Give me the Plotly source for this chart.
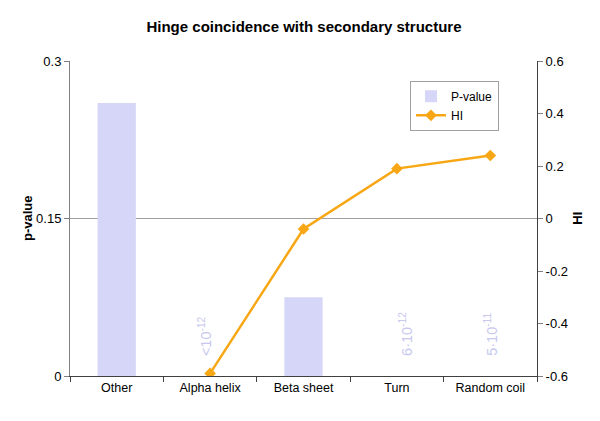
import plotly.graph_objects as go

categories = ["Other", "Alpha helix", "Beta sheet", "Turn", "Random coil"]
p_values = [0.26, 0.0, 0.075, 0.0, 0.0]
hi_values = [None, -0.59, -0.04, 0.19, 0.24]
small_p_labels = ["", "&lt;10<sup>-12</sup>", "", "6·10<sup>-12</sup>", "5·10<sup>-11</sup>"]
label_xshift = [0, -5, 0, 9, 0]

left_ticks = [0, 0.15, 0.3]
left_ticktext = ["0", "0.15", "0.3"]
right_ticks = [-0.6, -0.4, -0.2, 0, 0.2, 0.4, 0.6]
right_ticktext = ["-0.6", "-0.4", "-0.2", "0", "0.2", "0.4", "0.6"]

BAR = "#d6d6f8"
ORANGE = "#f7a714"
LBL = "#c8c8ee"
FONT = "Liberation Sans, Arial, sans-serif"

fig = go.Figure()
fig.add_trace(go.Bar(x=categories, y=p_values, name="P-value", marker=dict(color=BAR, line=dict(width=0)),
                     width=0.41, yaxis="y"))
fig.add_trace(go.Scatter(x=categories, y=hi_values, name="HI", mode="lines+markers", yaxis="y2",
                         line=dict(color=ORANGE, width=2.5),
                         marker=dict(symbol="diamond", size=9, color=ORANGE)))

for c, t, xs in zip(categories, small_p_labels, label_xshift):
    if t:
        fig.add_annotation(x=c, y=0, xref="x", yref="y", text=t, showarrow=False, textangle=-90,
                           yanchor="bottom", xanchor="center", xshift=xs, yshift=18,
                           font=dict(family=FONT, size=14.5, color=LBL))

# axis titles
fig.add_annotation(x=-0.091, y=0.5, xref="paper", yref="paper", text="<b>p-value</b>", showarrow=False,
                   textangle=-90, xanchor="center", yanchor="middle", font=dict(family=FONT, size=13))
fig.add_annotation(x=1.086, y=0.5, xref="paper", yref="paper", text="<b>HI</b>", showarrow=False,
                   textangle=-90, xanchor="center", yanchor="middle", font=dict(family=FONT, size=13))

fig.add_shape(type="line", xref="paper", yref="y", x0=0, x1=1, y0=0.15, y1=0.15,
              line=dict(color="#a0a0a0", width=1), layer="below")

fig.update_layout(
    width=592, height=413,
    margin=dict(l=62, r=63, t=53, b=45),
    paper_bgcolor="white", plot_bgcolor="white",
    font=dict(family=FONT, size=12.5, color="black"),
    title=dict(text="<b>Hinge coincidence with secondary structure</b>", x=0.5, xanchor="center",
               y=0.955, yanchor="middle", font=dict(size=15, family=FONT)),
    xaxis=dict(showline=True, linecolor="#404040", ticks="outside", tickson="boundaries",
               ticklen=5, tickcolor="#404040", showgrid=False, tickfont=dict(size=12.5)),
    yaxis=dict(range=[0, 0.3], tickvals=left_ticks, ticktext=left_ticktext, showgrid=False,
               showline=True, linecolor="#808080", ticks="outside", ticklen=5, tickcolor="#808080",
               zeroline=False, tickfont=dict(size=13)),
    yaxis2=dict(range=[-0.6, 0.6], tickvals=right_ticks, ticktext=right_ticktext, overlaying="y",
                side="right", showgrid=False, showline=True, linecolor="#404040", ticks="outside",
                ticklen=5, tickcolor="#808080", zeroline=False, tickfont=dict(size=13)),
    legend=dict(x=0.728, y=0.937, xanchor="left", yanchor="top", bordercolor="#a0a0a0",
                borderwidth=1, bgcolor="white", font=dict(size=12), tracegroupgap=0),
    showlegend=True,
    bargap=0.59,
)

fig.write_html("out.html")
